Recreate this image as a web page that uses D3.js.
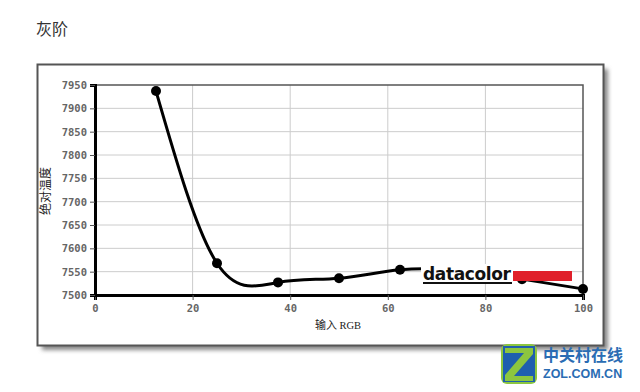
<!DOCTYPE html>
<html>
<head>
<meta charset="utf-8">
<script src="https://cdn.jsdelivr.net/npm/d3@7"></script>
<style>
  body { margin: 0; background: #fff; }
  svg { display: block; }
</style>
</head>
<body>
<script>
// grey-scale colour temperature readings
const inputRGB = [12.5, 25, 37.5, 50, 62.5, 75, 87.5, 100];
const cct = [7937, 7568, 7527, 7536, 7554, 7552, 7534, 7513];
const xTicks = [0, 20, 40, 60, 80, 100];
const yTicks = [7500, 7550, 7600, 7650, 7700, 7750, 7800, 7850, 7900, 7950];

const width = 640, height = 392;
const m = { left: 95, right: 583, top: 85, bottom: 295 };

const svg = d3.select("body").append("svg")
  .attr("width", width)
  .attr("height", height);

const defs = svg.append("defs");
defs.append("filter").attr("id", "blur")
  .attr("x", "-5%").attr("y", "-5%").attr("width", "110%").attr("height", "110%")
  .append("feGaussianBlur").attr("stdDeviation", 2);

svg.append("text")
  .attr("x", 36).attr("y", 35)
  .attr("font-family", "Noto Sans CJK SC")
  .attr("font-size", 16)
  .attr("fill", "#333")
  .text("灰阶");

// frame with shadow
svg.append("rect")
  .attr("x", 42).attr("y", 69).attr("width", 566).attr("height", 281)
  .attr("fill", "#888").attr("filter", "url(#blur)");
svg.append("rect")
  .attr("x", 37.5).attr("y", 64.5).attr("width", 566).attr("height", 281)
  .attr("fill", "#fff").attr("stroke", "#555").attr("stroke-width", 2);

const x = d3.scaleLinear().domain([0, 100]).range([m.left, m.right]);
const y = d3.scaleLinear().domain([7500, 7950]).range([m.bottom, m.top]);

// grid
svg.append("g")
  .selectAll("line")
  .data(xTicks.slice(1, -1))
  .join("line")
  .attr("x1", d => x(d)).attr("x2", d => x(d))
  .attr("y1", m.top).attr("y2", m.bottom)
  .attr("stroke", "#ccc");
svg.append("g")
  .selectAll("line")
  .data(yTicks.slice(1, -1))
  .join("line")
  .attr("x1", m.left).attr("x2", m.right)
  .attr("y1", d => y(d)).attr("y2", d => y(d))
  .attr("stroke", "#ccc");

// top & right border
svg.append("path")
  .attr("d", `M${m.left},${m.top}H${m.right}V${m.bottom}`)
  .attr("fill", "none").attr("stroke", "#555").attr("stroke-width", 1.5);

const tickFont = "DejaVu Sans Mono";

svg.append("g")
  .attr("transform", `translate(0,${m.bottom})`)
  .call(d3.axisBottom(x).tickValues(xTicks).tickSize(5).tickFormat(d3.format("d")))
  .call(g => g.select(".domain").attr("stroke", "#000").attr("stroke-width", 3))
  .call(g => g.selectAll(".tick line").attr("stroke", "#555"))
  .call(g => g.selectAll(".tick text")
    .attr("font-family", tickFont).attr("font-size", 10.5)
    .attr("font-weight", "bold").attr("fill", "#666").attr("dy", "0.9em"));

svg.append("g")
  .attr("transform", `translate(${m.left},0)`)
  .call(d3.axisLeft(y).tickValues(yTicks).tickSize(5).tickFormat(d3.format("d")))
  .call(g => g.select(".domain").attr("stroke", "#000").attr("stroke-width", 3))
  .call(g => g.selectAll(".tick line").attr("stroke", "#555"))
  .call(g => g.selectAll(".tick text")
    .attr("font-family", tickFont).attr("font-size", 10.5)
    .attr("font-weight", "bold").attr("fill", "#666").attr("x", -8));

const xLabel = svg.append("text")
  .attr("x", 338).attr("y", 329)
  .attr("text-anchor", "middle")
  .attr("font-family", "Noto Sans CJK SC")
  .attr("font-size", 11)
  .attr("fill", "#222");
xLabel.append("tspan").text("输入 ");
xLabel.append("tspan").attr("font-family", "Liberation Serif").attr("font-size", 10.5).text("RGB");

svg.append("text")
  .attr("transform", "translate(50,191) rotate(-90)")
  .attr("text-anchor", "middle")
  .attr("font-family", "Noto Sans CJK SC")
  .attr("font-size", 12)
  .attr("fill", "#222")
  .text("绝对温度");

const pts = inputRGB.map((v, i) => [v, cct[i]]);

svg.append("path")
  .datum(pts)
  .attr("fill", "none")
  .attr("stroke", "#000")
  .attr("stroke-width", 3)
  .attr("d", d3.line().x(d => x(d[0])).y(d => y(d[1])).curve(d3.curveNatural));

svg.append("g")
  .selectAll("circle")
  .data(pts)
  .join("circle")
  .attr("cx", d => x(d[0])).attr("cy", d => y(d[1]))
  .attr("r", 5).attr("fill", "#000");

// datacolor watermark
const logo = svg.append("g");
logo.append("rect").attr("x", 421).attr("y", 264).attr("width", 93).attr("height", 20).attr("fill", "#fff");
logo.append("text")
  .attr("x", 423).attr("y", 280)
  .attr("font-family", "DejaVu Sans")
  .attr("font-weight", "bold")
  .attr("font-size", 17)
  .attr("textLength", 88)
  .attr("fill", "#111")
  .text("datacolor");
logo.append("rect").attr("x", 423).attr("y", 282).attr("width", 89).attr("height", 2).attr("fill", "#111");
logo.append("rect").attr("x", 513).attr("y", 271).attr("width", 59).attr("height", 10).attr("fill", "#e0202b");

// ZOL watermark
const zol = svg.append("g");
zol.append("rect").attr("x", 501).attr("y", 344).attr("width", 36).attr("height", 40).attr("rx", 6).attr("fill", "#8cc63f");
zol.append("path").attr("d", "M503,346L535,346L535,382L503,382Z").attr("fill", "#1f5fae");
zol.append("path").attr("d", "M505,348L533,348L533,354L514,376L533,376L533,381L505,381L505,375L524,353L505,353Z").attr("fill", "#8cc63f");
zol.append("text")
  .attr("x", 543).attr("y", 361)
  .attr("font-family", "Noto Sans CJK SC")
  .attr("font-size", 16).attr("font-weight", "bold")
  .attr("fill", "#2a6cb3")
  .text("中关村在线");
zol.append("text")
  .attr("x", 543).attr("y", 378)
  .attr("font-family", "Liberation Sans")
  .attr("font-size", 12.5).attr("font-weight", "bold")
  .attr("fill", "#2a6cb3")
  .text("ZOL.COM.CN");
</script>
</body>
</html>
